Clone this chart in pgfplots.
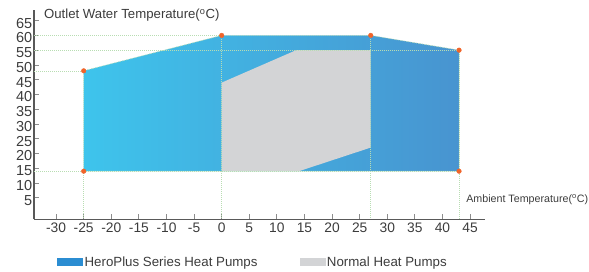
\documentclass[border=0pt]{standalone}
\usepackage{pgfplots}
\pgfplotsset{compat=1.18}
\usepackage{fontspec}
\setmainfont{Liberation Sans}
\definecolor{txt}{HTML}{3C3C3C}
\definecolor{blueL}{HTML}{3EC4EC}
\definecolor{blueR}{HTML}{4894D0}
\definecolor{legblue}{HTML}{2B8DD2}
\definecolor{npgray}{HTML}{D3D4D6}
\definecolor{dotgreen}{HTML}{B8DDB2}
\definecolor{dotred}{HTML}{F0642A}
\begin{document}
\begin{tikzpicture}
\path[use as bounding box] (0,0) rectangle (589pt,-271pt);
\begin{axis}[
  at={(34pt,-219pt)}, anchor=south west,
  scale only axis, width=451pt, height=209pt,
  xmin=-34, xmax=47.7, ymin=-2.2, ymax=68.6,
  axis x line*=bottom, axis y line*=left,
  axis line style={draw=black!65, line width=1pt},
  xtick={-30,-25,...,45},
  xticklabels={-30,-25,-20,-15,-10,-5,0,5,10,15,20,25,30,35,40,45},
  ytick={5,10,...,65},
  yticklabels={5,10,15,20,25,30,35,40,45,50,55,60,65},
  tick align=inside, major tick length=5pt,
  tick style={draw=black!45, line width=0.8pt},
  x tick label style={font=\fontsize{13.8}{14}\selectfont, text=txt},
  y tick label style={font=\fontsize{14.5}{15}\selectfont, text=txt, inner sep=1.5pt, yshift=-2.5pt},
  clip=false,
  legend columns=2,
  legend style={at={(axis description cs:0.051,-0.206)}, anchor=west, draw=none, fill=none,
    font=\fontsize{13.3}{14}\selectfont, text=txt, inner sep=0pt,
    /tikz/every even column/.append style={column sep=40pt}},
  legend image code/.code={\fill[#1] (0pt,-3.5pt) rectangle (25pt,3.5pt);},
  dots/.style={draw=dotgreen, line width=0.6pt, dash pattern=on 1pt off 1pt, forget plot},
]
\addlegendimage{legblue}
\addlegendentry{HeroPlus Series Heat Pumps}
\addlegendimage{npgray}
\addlegendentry{Normal Heat Pumps}

\addplot[draw=none, left color=blueL, right color=blueR, forget plot]
  coordinates {(-25,14) (-25,48) (0,60) (27,60) (43,55) (43,14)} -- cycle;
\addplot[draw=none, fill=npgray, forget plot]
  coordinates {(0,14) (0,44) (13.5,55) (27,55) (27,22) (14,14)} -- cycle;

\addplot[dots] coordinates {(-25,14) (-25,48) (0,60) (27,60) (43,55) (43,14)} -- cycle;
\addplot[dots] coordinates {(-34,60) (0,60)};
\addplot[dots] coordinates {(-34,55) (43,55)};
\addplot[dots] coordinates {(-34,48) (-25,48)};
\addplot[dots] coordinates {(-34,14) (43,14)};
\addplot[dots] coordinates {(-25,14) (-25,-2.2)};
\addplot[dots] coordinates {(0,60) (0,-2.2)};
\addplot[dots] coordinates {(27,60) (27,-2.2)};
\addplot[dots] coordinates {(43,55) (43,-2.2)};

\addplot[only marks, mark=*, mark size=2.3pt, color=dotred, forget plot]
  coordinates {(-25,14) (-25,48) (0,60) (27,60) (43,55) (43,14)};

\node[anchor=west, font=\fontsize{13.2}{14}\selectfont, text=txt, inner sep=0pt]
  at (axis description cs:0.022,0.976) {Outlet Water Temperature(\textsuperscript{o}C)};
\node[anchor=west, font=\fontsize{10.7}{12}\selectfont, text=txt, inner sep=0pt]
  at (axis description cs:0.958,0.091) {Ambient Temperature(\textsuperscript{o}C)};
\end{axis}
\end{tikzpicture}
\end{document}
